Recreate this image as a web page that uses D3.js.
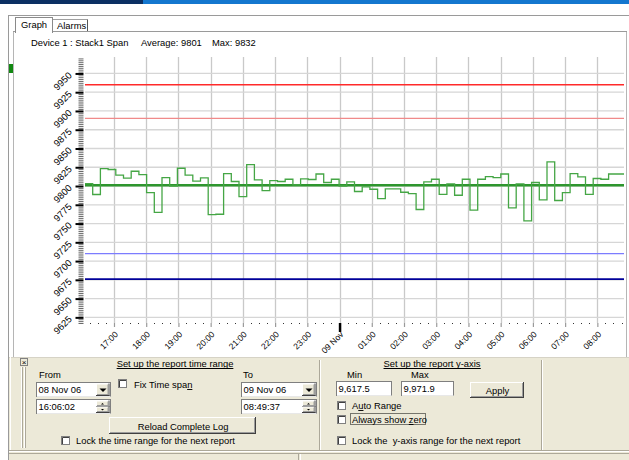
<!DOCTYPE html>
<html>
<head>
<meta charset="utf-8">
<script src="https://cdn.jsdelivr.net/npm/d3@7"></script>
<style>
  body { margin: 0; background: #fff; }
  svg text { font-family: "Liberation Sans", Arial, sans-serif; white-space: pre; }
</style>
</head>
<body>
<div id="canvas"></div>
<script>
//---- ---- DATA ---- ----
var timeFrom = new Date(2006, 10, 8, 16, 6, 2),
    timeTo   = new Date(2006, 10, 9, 8, 49, 37);

// one value per log bin (70 bins across the report range)
var spanValues = [
  9803.3, 9788.7, 9823.3, 9822.0, 9814.4, 9810.4, 9819.7, 9815.3, 9791.3, 9765.0,
  9811.3, 9800.0, 9823.7, 9814.4, 9806.4, 9810.8, 9762.0, 9762.4, 9816.6, 9806.0,
  9786.0, 9828.6, 9808.1, 9794.0, 9807.3, 9806.0, 9809.0, 9801.5, 9809.5, 9808.7,
  9816.0, 9804.7, 9809.0, 9800.0, 9805.5, 9792.7, 9798.8, 9795.7, 9783.3, 9796.2,
  9796.2, 9791.7, 9790.0, 9768.7, 9805.5, 9809.0, 9789.0, 9802.8, 9787.7, 9809.0,
  9767.8, 9809.0, 9812.6, 9811.3, 9816.0, 9770.9, 9802.8, 9753.6, 9804.7, 9781.5,
  9832.1, 9780.7, 9791.3, 9816.6, 9812.1, 9789.0, 9810.0, 9809.0, 9816.0, 9816.0
];

var averageValue = 9801,
    maxValue = 9832;

var alarmNames  = ['highAlarm', 'highWarn', 'lowWarn', 'lowAlarm'];
var alarmLevels = [9935, 9890, 9710, 9676];

var yMin = 9617.5, yMax = 9971.9;
var yTickValues = [9625, 9650, 9675, 9700, 9725, 9750, 9775, 9800, 9825, 9850, 9875, 9900, 9925, 9950];

var W = 629, H = 460;
var plotL = 85, plotR = 624, plotT = 57, plotB = 323;
var uiFont = 9.4;

var svg = d3.select('#canvas').append('svg')
    .attr('width', W).attr('height', H)
    .style('display', 'block');

//---- ---- WINDOW CHROME ---- ----
svg.append('rect').attr('x', 0).attr('y', 0).attr('width', W).attr('height', H).attr('fill', '#fff');
svg.append('rect').attr('x', 0).attr('y', 0).attr('width', 143).attr('height', 4).attr('fill', '#0b2f63');
svg.append('rect').attr('x', 143).attr('y', 0).attr('width', W - 143).attr('height', 4).attr('fill', '#1477cf');

function line(x1, y1, x2, y2, col, sw) {
  return svg.append('line').attr('x1', x1).attr('y1', y1).attr('x2', x2).attr('y2', y2)
    .attr('stroke', col).attr('stroke-width', sw || 1);
}
function label(x, y, str, size, anchor) {
  return svg.append('text').attr('x', x).attr('y', y).text(str)
    .attr('font-size', size || uiFont).attr('fill', '#000')
    .attr('text-anchor', anchor || 'start');
}

line(8, 15.5, W, 15.5, '#9a9a9a');
line(8.5, 15, 8.5, H, '#9a9a9a');
line(13.5, 32, 13.5, 357, '#b5b5b5');
line(626.5, 32, 626.5, 357, '#b5b5b5');
line(13, 31.5, 627, 31.5, '#9a9a9a');
svg.append('rect').attr('x', 9).attr('y', 64).attr('width', 4).attr('height', 9).attr('fill', '#118811');

// tabs
svg.append('rect').attr('x', 15.5).attr('y', 17.5).attr('width', 37).attr('height', 15)
  .attr('fill', '#fff').attr('stroke', '#8a8a8a');
svg.append('rect').attr('x', 16).attr('y', 31).attr('width', 36).attr('height', 2).attr('fill', '#fff');
line(53, 19.5, 87.5, 19.5, '#a0a0a0');
line(87.5, 19.5, 87.5, 31, '#555');
label(21, 28, 'Graph');
label(57, 29, 'Alarms');

// header
label(31, 46, 'Device 1 : Stack1 Span');
label(141, 46, 'Average: ' + averageValue);
label(212, 46, 'Max: ' + maxValue);

//---- ---- SCALES ---- ----
var scaleX = d3.scaleTime().domain([timeFrom, timeTo]).range([plotL, plotR]);
var scaleY = d3.scaleLinear().domain([yMin, yMax]).range([plotB, plotT]);

var plot = svg.append('g');

// grid
var hourTicks = scaleX.ticks(d3.timeHour.every(1));
plot.selectAll('.vgrid').data(hourTicks).enter().append('line')
  .attr('x1', function(d){ return Math.round(scaleX(d)) + 0.5; })
  .attr('x2', function(d){ return Math.round(scaleX(d)) + 0.5; })
  .attr('y1', plotT).attr('y2', plotB)
  .attr('stroke', '#c9c9c9').attr('stroke-width', 1.3);

plot.selectAll('.hgrid').data(yTickValues).enter().append('line')
  .attr('x1', plotL).attr('x2', plotR)
  .attr('y1', function(d){ return scaleY(d); })
  .attr('y2', function(d){ return scaleY(d); })
  .attr('stroke', '#d6d6d6').attr('stroke-width', 1.3);

// alarm / warning levels
var alarmStyle = {
  highAlarm: { c: '#ff2a2a', w: 1.5 },
  highWarn:  { c: '#f08a8a', w: 1.2 },
  lowWarn:   { c: '#7c7cff', w: 1.2 },
  lowAlarm:  { c: '#00009a', w: 1.6 }
};
plot.selectAll('.alarm').data(alarmLevels).enter().append('line')
  .attr('x1', plotL).attr('x2', plotR)
  .attr('y1', function(d){ return scaleY(d); })
  .attr('y2', function(d){ return scaleY(d); })
  .attr('stroke', function(d, i){ return alarmStyle[alarmNames[i]].c; })
  .attr('stroke-width', function(d, i){ return alarmStyle[alarmNames[i]].w; });

// average
plot.append('line')
  .attr('x1', plotL).attr('x2', plotR)
  .attr('y1', scaleY(averageValue)).attr('y2', scaleY(averageValue))
  .attr('stroke', '#2e962e').attr('stroke-width', 2.6);

// step trace
var binMs = (timeTo - timeFrom) / spanValues.length;
var pts = spanValues.map(function(v, i){ return { t: new Date(+timeFrom + i * binMs), v: v }; });
pts.push({ t: timeTo, v: spanValues[spanValues.length - 1] });

var stepLine = d3.line()
  .x(function(d){ return scaleX(d.t); })
  .y(function(d){ return scaleY(d.v); })
  .curve(d3.curveStepAfter);

plot.append('path').datum(pts)
  .attr('d', stepLine)
  .attr('fill', 'none')
  .attr('stroke', '#45a645')
  .attr('stroke-width', 1.3);

//---- ---- Y AXIS ---- ----
var minorY = d3.range(Math.ceil(yMin / 2.5) * 2.5, yMax, 2.5).filter(function(d){ return d % 25 !== 0; });
var axisYMinor = d3.axisLeft(scaleY).tickValues(minorY).tickSize(5).tickFormat('');
var gYm = svg.append('g').attr('transform', 'translate(83.5,0)').call(axisYMinor);
gYm.select('.domain').remove();
gYm.selectAll('line').attr('stroke', '#6a6a6a');

var axisY = d3.axisLeft(scaleY).tickValues(yTickValues).tickSize(8).tickPadding(0).tickFormat(d3.format('d'));
var gY = svg.append('g').attr('transform', 'translate(83.5,0)').call(axisY);
gY.select('.domain').remove();
gY.selectAll('line').attr('stroke', '#000').attr('stroke-width', 2);
gY.selectAll('text')
  .attr('font-size', 9.5).attr('font-family', '"Liberation Sans", Arial, sans-serif')
  .attr('text-anchor', 'end').attr('x', 0).attr('dy', 0)
  .attr('transform', 'translate(-11,2) rotate(-45)');

//---- ---- X AXIS ---- ----
var minorX = scaleX.ticks(d3.timeMinute.every(15)).filter(function(d){ return d.getMinutes() !== 0; });
svg.selectAll('.xdot').data(minorX).enter().append('rect')
  .attr('x', function(d){ return Math.round(scaleX(d)); })
  .attr('y', plotB).attr('width', 1).attr('height', 1).attr('fill', '#333');

var axisX = d3.axisBottom(scaleX).tickValues(hourTicks).tickSize(4).tickPadding(0)
  .tickFormat(function(d){ return d.getHours() === 0 ? d3.timeFormat('%d %b')(d) : d3.timeFormat('%H:00')(d); });
var gX = svg.append('g').attr('transform', 'translate(0,' + plotB + ')').call(axisX);
gX.select('.domain').remove();
gX.selectAll('line')
  .attr('stroke', function(d){ return d.getHours() === 0 ? '#000' : '#9a9a9a'; })
  .attr('stroke-width', function(d){ return d.getHours() === 0 ? 2.5 : 1.2; })
  .attr('y2', function(d){ return d.getHours() === 0 ? 9 : 4; });
gX.selectAll('text')
  .attr('font-size', 8.5).attr('font-family', '"Liberation Sans", Arial, sans-serif')
  .attr('text-anchor', 'end').attr('y', 0).attr('dy', 0)
  .attr('transform', 'translate(4,12) rotate(-45)');

//---- ---- CONTROL PANEL ---- ----
var panelT = 357;
svg.append('rect').attr('x', 9).attr('y', panelT).attr('width', W - 9).attr('height', H - panelT).attr('fill', '#ece9d8');
line(9, panelT + 0.5, W, panelT + 0.5, '#d6d3c6');
line(10.5, panelT, 10.5, 451, '#fff');
line(319.5, panelT + 3, 319.5, 450, '#aca899');
line(320.5, panelT + 3, 320.5, 450, '#fff');
line(541.5, panelT + 3, 541.5, 450, '#aca899');
line(542.5, panelT + 3, 542.5, 450, '#fff');
line(21.5, 367, 21.5, 448, '#fff');
line(22.5, 367, 22.5, 448, '#aca899');
line(24.5, 367, 24.5, 448, '#fff');
line(25.5, 367, 25.5, 448, '#aca899');
// close box
svg.append('rect').attr('x', 20.5).attr('y', 358.5).attr('width', 7).attr('height', 7)
  .attr('fill', '#ece9d8').attr('stroke', '#808080');
label(24, 365, '×', 8, 'middle');

// status bar
line(9, 450.5, W, 450.5, '#aca899');
line(9, 451.5, W, 451.5, '#fff');
line(9, 453.5, W, 453.5, '#aca899');
line(298.5, 454, 298.5, H, '#aca899');
line(300.5, 454, 300.5, H, '#fff');

function sunken(x, y, w, h, txt) {
  svg.append('rect').attr('x', x + 0.5).attr('y', y + 0.5).attr('width', w).attr('height', h)
    .attr('fill', '#fff').attr('stroke', '#7f7f7f');
  line(x + 1, y + h + 0.5, x + w + 0.5, y + h + 0.5, '#e8e8e8');
  if (txt) label(x + 2.5, y + h - 3.5, txt);
}
function raised(x, y, w, h, txt) {
  svg.append('rect').attr('x', x + 0.5).attr('y', y + 0.5).attr('width', w).attr('height', h)
    .attr('fill', '#ece9d8').attr('stroke', '#fff');
  line(x + w + 0.5, y, x + w + 0.5, y + h + 1, '#404040');
  line(x, y + h + 0.5, x + w + 1, y + h + 0.5, '#404040');
  line(x + w - 0.5, y + 1, x + w - 0.5, y + h, '#9d9d9d');
  line(x + 1, y + h - 0.5, x + w, y + h - 0.5, '#9d9d9d');
  if (txt) label(x + w / 2 + 1, y + h - 3.5, txt, uiFont, 'middle');
}
function combo(x, y, w, h, txt) {
  sunken(x, y, w, h, txt);
  raised(x + w - 14, y + 1.5, 12.5, h - 2.5);
  var cx = x + w - 7.5, cy = y + h / 2 + 1;
  svg.append('path').attr('d', 'M' + (cx - 3) + ',' + (cy - 1.5) + 'h7l-3.5,3.5z').attr('fill', '#000');
}
function spinner(x, y, w, h, txt) {
  sunken(x, y, w, h, txt);
  var bx = x + w - 14;
  raised(bx, y + 1.5, 12.5, h / 2 - 1.5);
  raised(bx, y + h / 2 + 0.5, 12.5, h / 2 - 1.5);
  var cx = bx + 6.5;
  svg.append('path').attr('d', 'M' + (cx - 1.5) + ',' + (y + 5.5) + 'h3l-1.5,-1.5z').attr('fill', '#000');
  svg.append('path').attr('d', 'M' + (cx - 1.5) + ',' + (y + h - 4) + 'h3l-1.5,1.5z').attr('fill', '#000');
}
function checkbox(x, y, txt) {
  svg.append('rect').attr('x', x + 0.5).attr('y', y + 0.5).attr('width', 8).attr('height', 8)
    .attr('fill', '#fff').attr('stroke', '#808080');
  line(x + 1.5, y + 1.5, x + 8, y + 1.5, '#404040');
  line(x + 1.5, y + 1.5, x + 1.5, y + 8, '#404040');
  if (txt) label(x + 15, y + 7.5, txt);
}
function underlined(cx, y, txt) {
  var t = label(cx, y, txt, uiFont, 'middle');
  var bb = t.node().getBBox();
  line(bb.x, y + 1.5, bb.x + bb.width, y + 1.5, '#000');
}

// time range section
underlined(175, 367, 'Set up the report time range');
label(39, 378, 'From');
combo(36, 382, 74, 14, '08 Nov 06');
spinner(36, 399, 74, 14, '16:06:02');
checkbox(118, 379, null);
var fix = label(134, 388, '');
fix.append('tspan').text('Fix Time spa');
fix.append('tspan').text('n').attr('text-decoration', 'underline');
label(243, 378, 'To');
combo(241, 382, 75, 14, '09 Nov 06');
spinner(241, 399, 75, 14, '08:49:37');
raised(109, 417, 146, 16, 'Reload Complete Log');
checkbox(61, 436, 'Lock the time range for the next report');

// y-axis section
underlined(432, 367, 'Set up the report y-axis');
label(347, 378, 'Min');
label(411, 378, 'Max');
sunken(336, 381, 55, 14, d3.format(',.1f')(yMin));
sunken(401, 381, 52, 14, d3.format(',.1f')(yMax));
raised(470, 382, 53, 15, 'Apply');
checkbox(337, 401, null);
var ar = label(352, 409, '');
ar.append('tspan').text('A');
ar.append('tspan').text('u').attr('text-decoration', 'underline');
ar.append('tspan').text('to Range');
checkbox(337, 415, null);
var az = label(352, 423, '');
az.append('tspan').text('Always show ');
az.append('tspan').text('z').attr('text-decoration', 'underline');
az.append('tspan').text('ero');
svg.append('rect').attr('x', 350.5).attr('y', 413.5).attr('width', 75).attr('height', 11)
  .attr('fill', 'none').attr('stroke', '#000').attr('stroke-dasharray', '1,1');
checkbox(337, 436, 'Lock the  y-axis range for the next report');
</script>
</body>
</html>
